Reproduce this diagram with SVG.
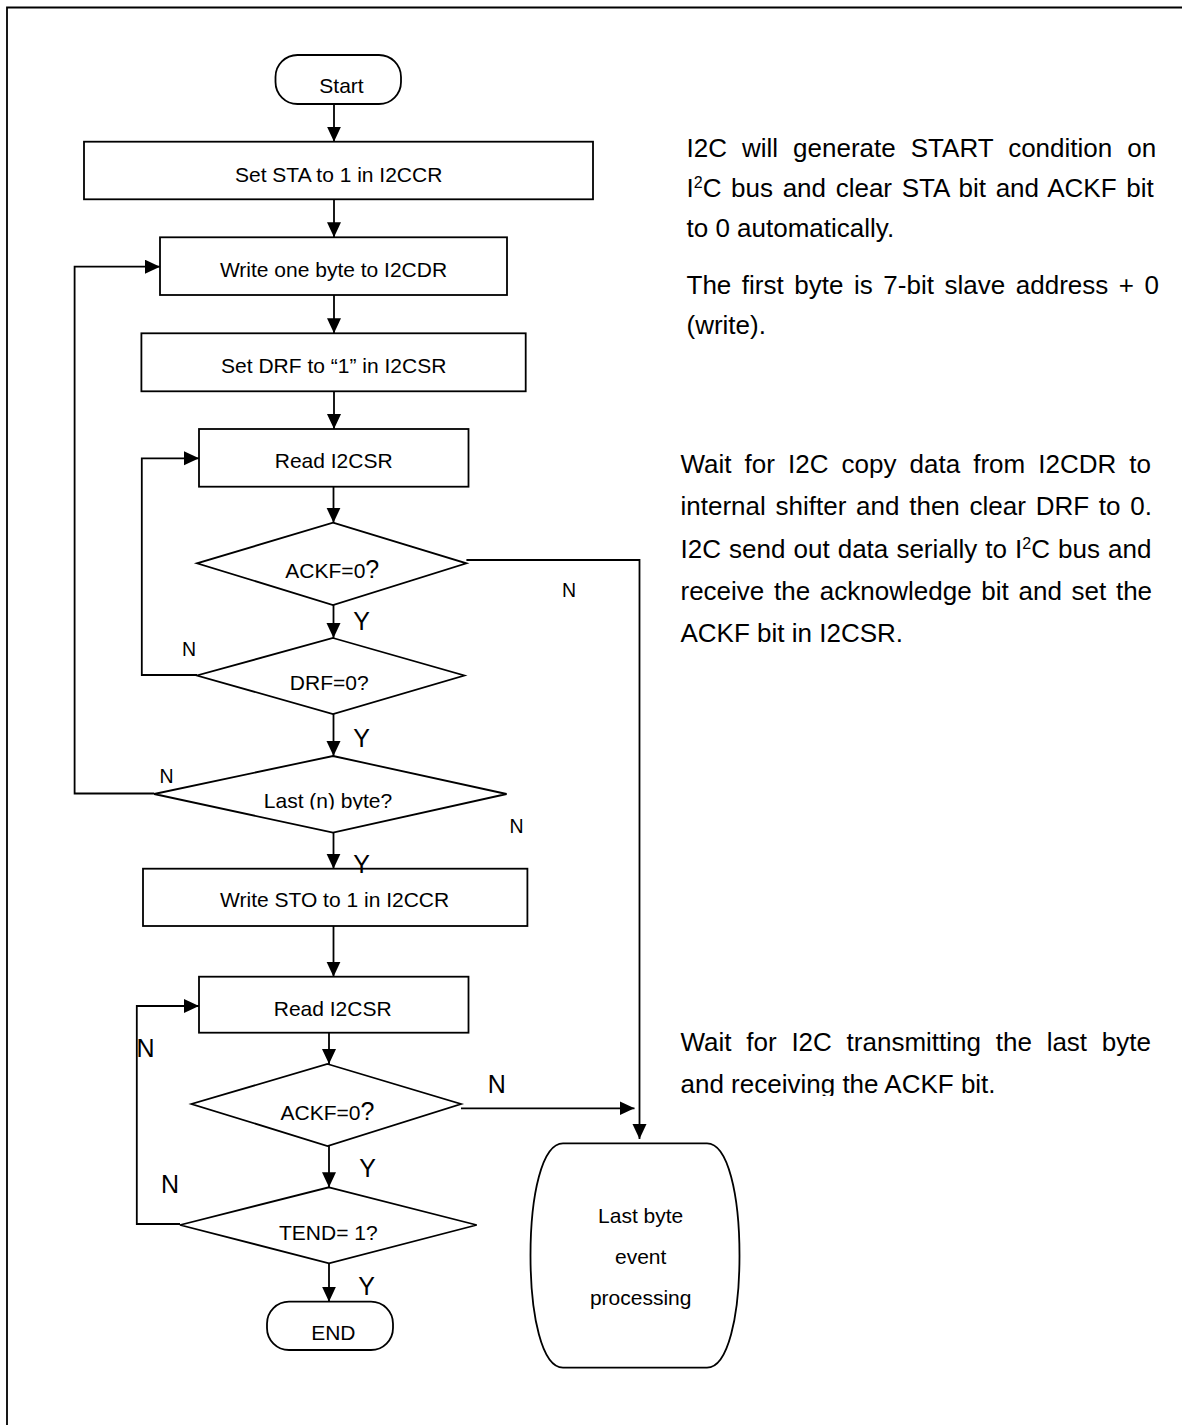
<svg xmlns="http://www.w3.org/2000/svg" width="1182" height="1425" viewBox="0 0 1182 1425">
<style>
.sh{fill:#fff;stroke:#000;stroke-width:1.8}
.ln{fill:none;stroke:#000;stroke-width:1.8}
.t{font-family:"Liberation Sans",Arial,sans-serif;font-size:21px;fill:#000;text-anchor:middle}
.y{font-family:"Liberation Sans",Arial,sans-serif;font-size:25px;fill:#000;text-anchor:middle}
.n{font-family:"Liberation Sans",Arial,sans-serif;font-size:19.5px;fill:#000;text-anchor:middle}
.p{font-family:"Liberation Sans",Arial,sans-serif;font-size:26px;fill:#000}
</style>
<defs>
<marker id="ah" markerUnits="userSpaceOnUse" markerWidth="16" markerHeight="15" refX="15" refY="7" orient="auto"><path d="M0,0 L15,7 L0,14 Z" fill="#000"/></marker>
<clipPath id="clipLast"><rect x="150" y="750" width="360" height="59.5"/></clipPath>
<clipPath id="clipP3"><rect x="600" y="1000" width="582" height="96"/></clipPath>
</defs>
<rect x="0" y="0" width="1182" height="1425" fill="#fff"/>
<g id="frame"><path class="ln" d="M7,1425 V7.5 H1182" stroke-width="2"/></g>

<g id="connectors">
<path class="ln" d="M334,104 V141.7" marker-end="url(#ah)"/>
<path class="ln" d="M334,199.3 V237.3" marker-end="url(#ah)"/>
<path class="ln" d="M334,295 V333.3" marker-end="url(#ah)"/>
<path class="ln" d="M334,391.3 V429" marker-end="url(#ah)"/>
<path class="ln" d="M333.5,486.7 V522.7" marker-end="url(#ah)"/>
<path class="ln" d="M333.5,605 V638" marker-end="url(#ah)"/>
<path class="ln" d="M333.5,714 V756" marker-end="url(#ah)"/>
<path class="ln" d="M333.5,832.7 V868.7" marker-end="url(#ah)"/>
<path class="ln" d="M333.5,926 V976.7" marker-end="url(#ah)"/>
<path class="ln" d="M329,1032.7 V1064" marker-end="url(#ah)"/>
<path class="ln" d="M329,1146 V1187.3" marker-end="url(#ah)"/>
<path class="ln" d="M329,1263.3 V1301.7" marker-end="url(#ah)"/>
<path class="ln" d="M154.2,793.5 H74.6 V266.7 H160" marker-end="url(#ah)"/>
<path class="ln" d="M197,675 H141.8 V458.3 H199" marker-end="url(#ah)"/>
<path class="ln" d="M180,1224 H136.8 V1006 H199" marker-end="url(#ah)"/>
<path class="ln" d="M466.4,560 H639.5 V1139" marker-end="url(#ah)"/>
<path class="ln" d="M461,1108.3 H634.5" marker-end="url(#ah)"/>
</g>

<g id="start"><rect class="sh" x="275.5" y="55" width="125.5" height="49" rx="22"/><text class="t" x="341.5" y="93.3">Start</text></g>
<g id="setSTA"><rect class="sh" x="84" y="141.7" width="509" height="57.6"/><text class="t" x="338.7" y="181.7">Set STA to 1 in I2CCR</text></g>
<g id="write"><rect class="sh" x="160" y="237.3" width="347" height="57.7"/><text class="t" x="333.5" y="276.7">Write one byte to I2CDR</text></g>
<g id="setDRF"><rect class="sh" x="141.4" y="333.3" width="384.3" height="58"/><text class="t" x="333.7" y="373.3">Set DRF to “1” in I2CSR</text></g>
<g id="read1"><rect class="sh" x="199" y="429" width="269.5" height="57.7"/><text class="t" x="333.7" y="468.3">Read I2CSR</text></g>
<g id="ackf1"><polygon class="sh" points="333,522.7 466.4,563.3 333,605 197,563.3"/><text class="t" x="332.3" y="578.3">ACKF=0<tspan font-size="25">?</tspan></text></g>
<g id="drf"><polygon class="sh" points="333,638 464.3,675.5 333,714 197,675.5"/><text class="t" x="329.2" y="690">DRF=0?</text></g>
<g id="last"><polygon class="sh" points="333,756 506.6,794 333,832.7 154.2,794"/><text class="t" x="328" y="808.3" clip-path="url(#clipLast)">Last (n) byte?</text></g>
<g id="writeSTO"><rect class="sh" x="143" y="868.7" width="384.4" height="57.3"/><text class="t" x="334.6" y="906.7">Write STO to 1 in I2CCR</text></g>
<g id="read2"><rect class="sh" x="199" y="976.7" width="269.5" height="56"/><text class="t" x="332.7" y="1016">Read I2CSR</text></g>
<g id="ackf2"><polygon class="sh" points="327.5,1064 461,1104 327.5,1146 191.5,1104"/><text class="t" x="327.5" y="1120">ACKF=0<tspan font-size="25">?</tspan></text></g>
<g id="tend"><polygon class="sh" points="329,1187.3 476.7,1225 329,1263.3 180,1225"/><text class="t" x="328.3" y="1240">TEND= 1?</text></g>
<g id="end"><rect class="sh" x="267" y="1301.7" width="126" height="48.3" rx="22"/><text class="t" x="333.3" y="1340">END</text></g>
<g id="lastByteEvent"><path class="sh" d="M563,1143.3 H707 C728,1143.3 739.5,1195 739.5,1255.5 C739.5,1316 728,1367.7 707,1367.7 H563 C542,1367.7 530.5,1316 530.5,1255.5 C530.5,1195 542,1143.3 563,1143.3 Z"/>
<text class="t" x="640.7" y="1222.5">Last byte</text>
<text class="t" x="640.7" y="1263.5">event</text>
<text class="t" x="640.7" y="1305">processing</text></g>

<g id="connector-labels">
<text class="n" x="569" y="597.3">N</text>
<text class="y" x="361.5" y="630">Y</text>
<text class="n" x="189" y="656">N</text>
<text class="y" x="361.5" y="747.3">Y</text>
<text class="n" x="166.5" y="783.3">N</text>
<text class="n" x="516.6" y="833.3">N</text>
<text class="y" x="361.5" y="872.7">Y</text>
<text class="y" x="145.5" y="1056.7">N</text>
<text class="y" x="496.7" y="1093.3">N</text>
<text class="y" x="367.5" y="1176.7">Y</text>
<text class="y" x="170" y="1193.3">N</text>
<text class="y" x="366.7" y="1295">Y</text>
</g>

<g id="notes">
<text class="p" x="686.5" y="157" word-spacing="7.8">I2C will generate START condition on</text>
<text class="p" x="686.5" y="196.5" word-spacing="2.43">I<tspan font-size="16" dy="-9">2</tspan><tspan dy="9">C bus and clear STA bit and ACKF bit</tspan></text>
<text class="p" x="686.5" y="236.5">to 0 automatically.</text>
<text class="p" x="686.5" y="294" word-spacing="3.34">The first byte is 7-bit slave address + 0</text>
<text class="p" x="686.5" y="333.5">(write).</text>

<text class="p" x="680.5" y="473" word-spacing="5.84">Wait for I2C copy data from I2CDR to</text>
<text class="p" x="680.5" y="515" word-spacing="2.53">internal shifter and then clear DRF to 0.</text>
<text class="p" x="680.5" y="557.5" word-spacing="0.85">I2C send out data serially to I<tspan font-size="16" dy="-9">2</tspan><tspan dy="9">C bus and</tspan></text>
<text class="p" x="680.5" y="599.5" word-spacing="2.47">receive the acknowledge bit and set the</text>
<text class="p" x="680.5" y="641.5">ACKF bit in I2CSR.</text>

<text class="p" x="680.5" y="1051" word-spacing="7.53">Wait for I2C transmitting the last byte</text>
<text class="p" x="680.5" y="1093" clip-path="url(#clipP3)">and receiving the ACKF bit.</text>
</g>
</svg>
